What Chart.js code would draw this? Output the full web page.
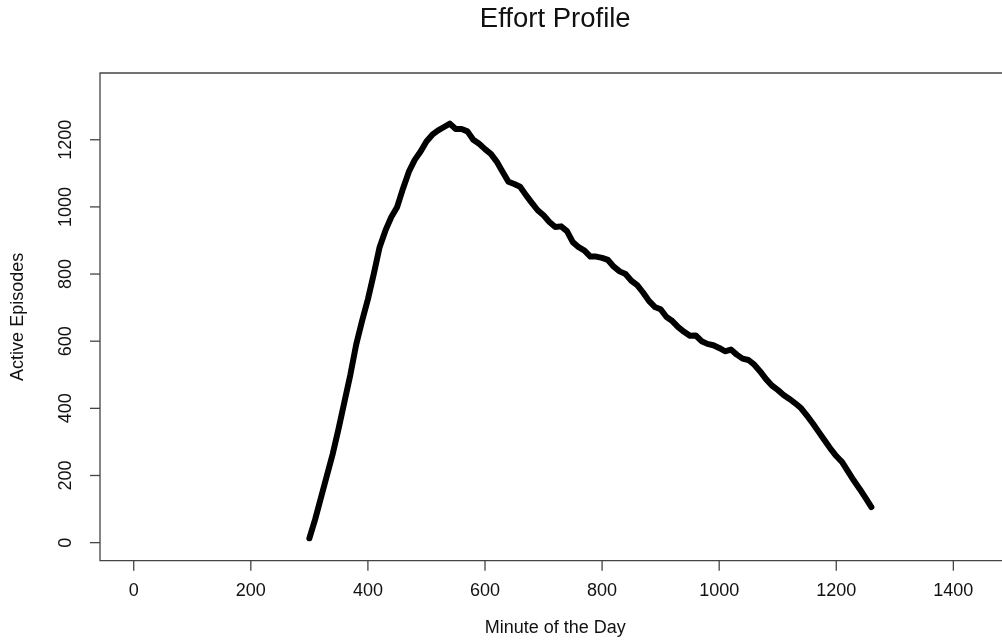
<!DOCTYPE html>
<html lang="en">
<head>
    <meta charset="UTF-8">
    <title>Effort Profile</title>
    <script src="https://cdn.jsdelivr.net/npm/chart.js"></script>
</head>
<style>
    body { margin: 0; overflow: hidden; background: #fff; }
    #wrap { width: 1040px; height: 642px; }
</style>
<body>
<div id="wrap">
    <canvas id="effortChart"></canvas>
</div>
<script>
    // minute of the day and number of active episodes
    var minutes = [300, 310, 320, 330, 340, 350, 360, 370, 380, 390, 400, 410, 420, 430, 440, 450,
        460, 470, 480, 490, 500, 510, 520, 530, 540, 550, 560, 570, 580, 590, 600, 610, 620, 630,
        640, 650, 660, 670, 680, 690, 700, 710, 720, 730, 740, 750, 760, 770, 780, 790, 800, 810,
        820, 830, 840, 850, 860, 870, 880, 890, 900, 910, 920, 930, 940, 950, 960, 970, 980, 990,
        1000, 1010, 1020, 1030, 1040, 1050, 1060, 1070, 1080, 1090, 1100, 1110, 1120, 1130, 1140,
        1150, 1160, 1170, 1180, 1190, 1200, 1210, 1220, 1230, 1240, 1250, 1260];
    var episodes = [13, 70, 135, 200, 265, 340, 420, 500, 590, 660, 725, 800, 880, 930, 970, 1000,
        1055, 1105, 1140, 1165, 1195, 1215, 1228, 1238, 1248, 1232, 1232, 1225, 1200, 1188, 1172, 1158, 1135, 1105,
        1075, 1068, 1060, 1035, 1012, 990, 975, 955, 940, 942, 928, 895, 880, 870, 852, 852, 848, 842,
        822, 808, 800, 780, 767, 745, 720, 702, 695, 672, 660, 642, 628, 616, 617, 600, 592, 588,
        580, 570, 575, 560, 548, 544, 530, 510, 487, 468, 455, 440, 428, 415, 400,
        378, 355, 330, 305, 280, 258, 240, 212, 185, 160, 133, 106];

    var xTicks = [0, 200, 400, 600, 800, 1000, 1200, 1400];
    var yTicks = [0, 200, 400, 600, 800, 1000, 1200];

    var points = minutes.map(function (m, i) { return { x: m, y: episodes[i] }; });

    var FONT = '"Liberation Sans", Arial, Helvetica, sans-serif';

    // R style box, ticks and labels
    var rAxes = {
        id: 'rAxes',
        afterDraw: function (chart) {
            var ctx = chart.ctx;
            var a = chart.chartArea;
            var xs = chart.scales.x, ys = chart.scales.y;
            ctx.save();
            ctx.strokeStyle = '#444';
            ctx.lineWidth = 1.3;
            ctx.beginPath();
            ctx.moveTo(chart.width, a.top);
            ctx.lineTo(a.left, a.top);
            ctx.lineTo(a.left, a.bottom);
            ctx.lineTo(chart.width, a.bottom);
            ctx.stroke();

            ctx.fillStyle = '#111';
            ctx.font = '18px ' + FONT;
            ctx.textAlign = 'center';
            ctx.textBaseline = 'middle';
            xTicks.forEach(function (v) {
                var px = xs.getPixelForValue(v);
                ctx.beginPath();
                ctx.moveTo(px, a.bottom);
                ctx.lineTo(px, a.bottom + 10);
                ctx.stroke();
                ctx.fillText(String(v), px, 591);
            });
            yTicks.forEach(function (v) {
                var py = ys.getPixelForValue(v);
                ctx.beginPath();
                ctx.moveTo(a.left - 10, py);
                ctx.lineTo(a.left, py);
                ctx.stroke();
                ctx.save();
                ctx.translate(66, py);
                ctx.rotate(-Math.PI / 2);
                ctx.fillText(String(v), 0, 0);
                ctx.restore();
            });

            var cx = (a.left + a.right) / 2;
            ctx.fillText('Minute of the Day', cx, 628);
            ctx.save();
            ctx.translate(18, (a.top + a.bottom) / 2);
            ctx.rotate(-Math.PI / 2);
            ctx.fillText('Active Episodes', 0, 0);
            ctx.restore();

            ctx.font = '27.5px ' + FONT;
            ctx.fillText('Effort Profile', cx, 19);
            ctx.restore();
        }
    };

    var effortChart = new Chart(document.getElementById('effortChart').getContext('2d'), {
        type: 'line',
        data: {
            datasets: [{
                label: 'Active Episodes',
                data: points,
                borderColor: '#000',
                borderWidth: 6,
                borderJoinStyle: 'round',
                borderCapStyle: 'round',
                pointRadius: 0,
                tension: 0,
                fill: false
            }]
        },
        options: {
            responsive: true,
            maintainAspectRatio: false,
            animation: false,
            layout: { padding: { left: 100, top: 73, right: 29.5, bottom: 81.3 } },
            plugins: { legend: { display: false }, tooltip: { enabled: false } },
            scales: {
                x: { type: 'linear', min: -57.6, max: 1497.6, display: false },
                y: { type: 'linear', min: -53.8, max: 1398.8, display: false }
            }
        },
        plugins: [rAxes]
    });
</script>
</body>
</html>
